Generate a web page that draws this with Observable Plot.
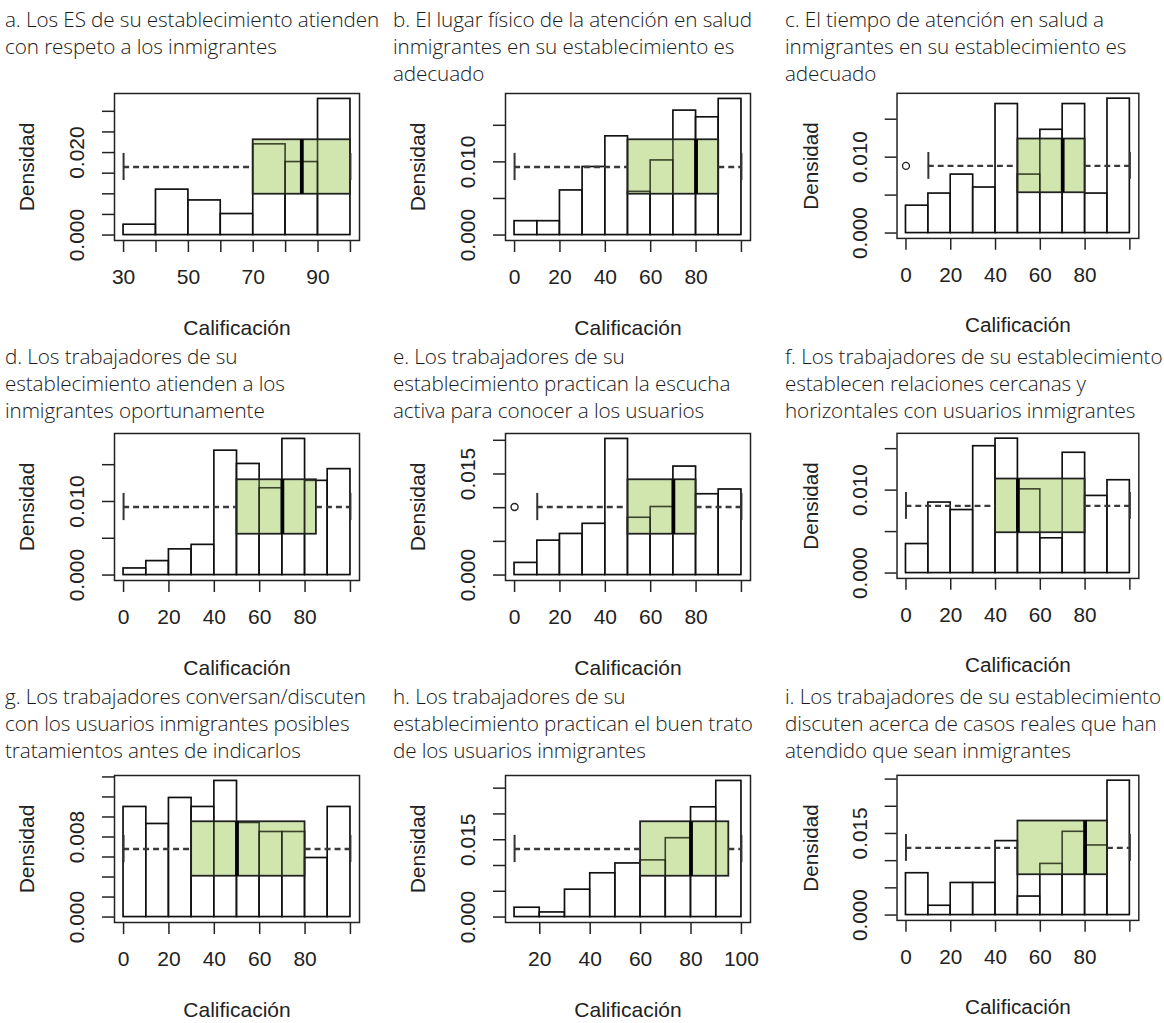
<!DOCTYPE html>
<html>
<head>
<meta charset="utf-8">
<script src="https://cdn.jsdelivr.net/npm/d3@7"></script>
<script src="https://cdn.jsdelivr.net/npm/@observablehq/plot@0.6"></script>
<style>
  html, body { margin: 0; padding: 0; background: #fff; }
  body { width: 1164px; height: 1023px; position: relative; overflow: hidden; }
  .title { position: absolute; font-family: "Open Sans", "Noto Sans", sans-serif; font-weight: 300;
           font-size: 20.7px; line-height: 27px; color: #1a1a1a; white-space: nowrap; letter-spacing: -0.1px; }
  .panel { position: absolute; }
  .panel svg, .panel svg text { font-family: "Liberation Sans", Arial, Helvetica, sans-serif !important; font-weight: 400; }
</style>
</head>
<body>
<script>
// ---------- DATA ----------
const titlesA = ["a. Los ES de su establecimiento atienden", "con respeto a los inmigrantes"];
const titlesB = ["b. El lugar físico de la atención en salud", "inmigrantes en su establecimiento es", "adecuado"];
const titlesC = ["c. El tiempo de atención en salud a", "inmigrantes en su establecimiento es", "adecuado"];
const titlesD = ["d. Los trabajadores de su", "establecimiento atienden a los", "inmigrantes oportunamente"];
const titlesE = ["e. Los trabajadores de su", "establecimiento practican la escucha", "activa para conocer a los usuarios"];
const titlesF = ["f. Los trabajadores de su establecimiento", "establecen relaciones cercanas y", "horizontales con usuarios inmigrantes"];
const titlesG = ["g. Los trabajadores conversan/discuten", "con los usuarios inmigrantes posibles", "tratamientos antes de indicarlos"];
const titlesH = ["h. Los trabajadores de su", "establecimiento practican el buen trato", "de los usuarios inmigrantes"];
const titlesI = ["i. Los trabajadores de su establecimiento", "discuten acerca de casos reales que han", "atendido que sean inmigrantes"];

// histogram densities (bins of width 10 starting at binStart)
const densA = [0.0025, 0.0110, 0.0084, 0.0051, 0.0220, 0.0177, 0.0330];
const densB = [0.0019, 0.0019, 0.0061, 0.0093, 0.0135, 0.0059, 0.0102, 0.0170, 0.0161, 0.0186];
const densC = [0.0036, 0.0052, 0.0077, 0.0060, 0.0170, 0.0077, 0.0136, 0.0170, 0.0052, 0.0177];
const densD = [0.0009, 0.0019, 0.0035, 0.0041, 0.0169, 0.0151, 0.0118, 0.0185, 0.0128, 0.0144];
const densE = [0.0018, 0.0051, 0.0061, 0.0076, 0.0202, 0.0085, 0.0101, 0.0161, 0.0120, 0.0127];
const densF = [0.0035, 0.0085, 0.0076, 0.0153, 0.0162, 0.0101, 0.0042, 0.0145, 0.0093, 0.0112];
const densG = [0.0110, 0.0093, 0.0119, 0.0110, 0.0136, 0.0094, 0.0085, 0.0085, 0.0059, 0.0110];
const densH = [0.0018, 0.0009, 0.0053, 0.0085, 0.0104, 0.0110, 0.0153, 0.0213, 0.0264];
const densI = [0.0077, 0.0017, 0.0059, 0.0059, 0.0136, 0.0034, 0.0094, 0.0153, 0.0128, 0.0247];
const binStart = [30, 0, 0, 0, 0, 0, 0, 10, 0];

// boxplot stats: [lower whisker, Q1, median, Q3, upper whisker]
const statsA = [30, 70, 85, 100, 100];
const statsB = [0, 50, 80, 90, 100];
const statsC = [10, 50, 70, 80, 100];
const statsD = [0, 50, 70, 85, 100];
const statsE = [10, 50, 70, 80, 100];
const statsF = [0, 40, 50, 80, 100];
const statsG = [0, 30, 50, 80, 100];
const statsH = [10, 60, 80, 95, 100];
const statsI = [0, 50, 80, 90, 100];
const outliersC = [0];
const outliersE = [0];

// ticks
const xTicksA = [30, 40, 50, 60, 70, 80, 90, 100];
const xLabelsA = [30, 50, 70, 90];
const xTicks0 = [0, 20, 40, 60, 80, 100];
const xLabels0 = [0, 20, 40, 60, 80];
const xTicksH = [20, 40, 60, 80, 100];
const xLabelsH = [20, 40, 60, 80, 100];
const yTicks30 = [0, 0.005, 0.010, 0.015, 0.020, 0.025, 0.030];
const yTicks15 = [0, 0.005, 0.010, 0.015];
const yTicks20 = [0, 0.005, 0.010, 0.015, 0.020];
const yTicks25 = [0, 0.005, 0.010, 0.015, 0.020, 0.025];
const yTicksG = [0, 0.002, 0.004, 0.006, 0.008, 0.010, 0.012, 0.014];
const yLabelsA = [0, 0.020];
const yLabels10 = [0, 0.010];
const yLabels15 = [0, 0.015];
const yLabelsG = [0, 0.008];

const xTitle = "Calificación";
const yTitle = "Densidad";

// ---------- LAYOUT ----------
const colLeft = [0, 391, 784];
const titleLeft = [5, 393, 785];
const rowSvgTop = [81, 421, 763];
const rowTitleTop = [6, 343, 683];

const panels = [
  {titles: titlesA, dens: densA, start: binStart[0], stats: statsA, out: [], xt: xTicksA, xl: xLabelsA, yt: yTicks30, yl: yLabelsA},
  {titles: titlesB, dens: densB, start: binStart[1], stats: statsB, out: [], xt: xTicks0, xl: xLabels0, yt: yTicks15, yl: yLabels10},
  {titles: titlesC, dens: densC, start: binStart[2], stats: statsC, out: outliersC, xt: xTicks0, xl: xLabels0, yt: yTicks15, yl: yLabels10},
  {titles: titlesD, dens: densD, start: binStart[3], stats: statsD, out: [], xt: xTicks0, xl: xLabels0, yt: yTicks15, yl: yLabels10},
  {titles: titlesE, dens: densE, start: binStart[4], stats: statsE, out: outliersE, xt: xTicks0, xl: xLabels0, yt: yTicks20, yl: yLabels15},
  {titles: titlesF, dens: densF, start: binStart[5], stats: statsF, out: [], xt: xTicks0, xl: xLabels0, yt: yTicks15, yl: yLabels10},
  {titles: titlesG, dens: densG, start: binStart[6], stats: statsG, out: [], xt: xTicks0, xl: xLabels0, yt: yTicksG, yl: yLabelsG},
  {titles: titlesH, dens: densH, start: binStart[7], stats: statsH, out: [], xt: xTicksH, xl: xLabelsH, yt: yTicks25, yl: yLabels15},
  {titles: titlesI, dens: densI, start: binStart[8], stats: statsI, out: [], xt: xTicks0, xl: xLabels0, yt: yTicks25, yl: yLabels15}
];

const axisFont = '"Liberation Sans", Arial, Helvetica, sans-serif';
const ink = "#222";
const fmt = d3.format(".3f");

function makePanel(p) {
  const bins = p.dens.map((d, i) => ({x0: p.start + 10 * i, x1: p.start + 10 * (i + 1), density: d}));
  const maxD = d3.max(p.dens);
  const end = bins[bins.length - 1].x1;
  const span = end - p.start;
  const c = maxD / 2, hw = 0.2 * maxD, sw = 0.1 * maxD;
  const [lo, q1, med, q3, hi] = p.stats;
  const boxRow = [{q1, q3}];
  return Plot.plot({
    width: 385, height: 259,
    marginLeft: 114, marginRight: 26, marginTop: 12, marginBottom: 100,
    x: {domain: [p.start - 0.04 * span, end + 0.04 * span]},
    y: {domain: [-0.04 * maxD, 1.04 * maxD]},
    style: {background: "transparent", fontFamily: axisFont, fontSize: "21px", color: ink, overflow: "visible"},
    marks: [
      Plot.rect(bins, {x1: "x0", x2: "x1", y1: 0, y2: "density", fill: "white", stroke: "#111", strokeWidth: 1.5}),
      Plot.rect(boxRow, {x1: "q1", x2: "q3", y1: c - hw, y2: c + hw, fill: "#b3d47a", fillOpacity: 0.6}),
      Plot.rect(bins, {x1: "x0", x2: "x1", y1: 0, y2: "density", fill: "none", stroke: "#111", strokeOpacity: 0.55, strokeWidth: 1.5}),
      Plot.rect(boxRow, {x1: "q1", x2: "q3", y1: c - hw, y2: c + hw, fill: "none", stroke: "#222", strokeWidth: 1.8}),
      Plot.ruleY([{a: lo, b: q1}, {a: q3, b: hi}], {x1: "a", x2: "b", y: c, stroke: "#3a3a3a", strokeWidth: 2.3, strokeDasharray: "6,4"}),
      Plot.ruleX([lo, hi], {x: d => d, y1: c - sw, y2: c + sw, stroke: "#333", strokeWidth: 2}),
      Plot.ruleX([med], {x: d => d, y1: c - hw, y2: c + hw, stroke: "#000", strokeWidth: 3.8}),
      Plot.dot(p.out, {x: d => d, y: c, r: 3.5, stroke: "#222", strokeWidth: 1.4, fill: "white"}),
      Plot.frame({stroke: "#222", strokeWidth: 1.5}),
      Plot.axisX(p.xt, {tickSize: 12, tickPadding: 17, label: null, tickFormat: d => p.xl.includes(d) ? String(d) : "", fontSize: 21, strokeWidth: 1.5}),
      Plot.axisY(p.yt, {tickSize: 12, label: null, tickFormat: () => "", strokeWidth: 1.5}),
      Plot.text(p.yl, {y: d => d, text: d => fmt(d), frameAnchor: "left", dx: -37, rotate: -90, textAnchor: "middle", lineAnchor: "middle", fontSize: 21, fill: ink}),
      Plot.text([yTitle], {frameAnchor: "left", dx: -87, rotate: -90, textAnchor: "middle", lineAnchor: "middle", fontSize: 21, fill: ink}),
      Plot.text([xTitle], {frameAnchor: "bottom", dy: 88, textAnchor: "middle", lineAnchor: "middle", fontSize: 21, fill: ink})
    ]
  });
}

panels.forEach((p, i) => {
  const col = i % 3, row = Math.floor(i / 3);
  const t = document.createElement("div");
  t.className = "title";
  t.style.left = titleLeft[col] + "px";
  t.style.top = rowTitleTop[row] + "px";
  t.innerHTML = p.titles.join("<br>");
  document.body.appendChild(t);

  const div = document.createElement("div");
  div.className = "panel";
  div.style.left = colLeft[col] + "px";
  div.style.top = rowSvgTop[row] + "px";
  div.appendChild(makePanel(p));
  document.body.appendChild(div);
});
</script>
</body>
</html>
